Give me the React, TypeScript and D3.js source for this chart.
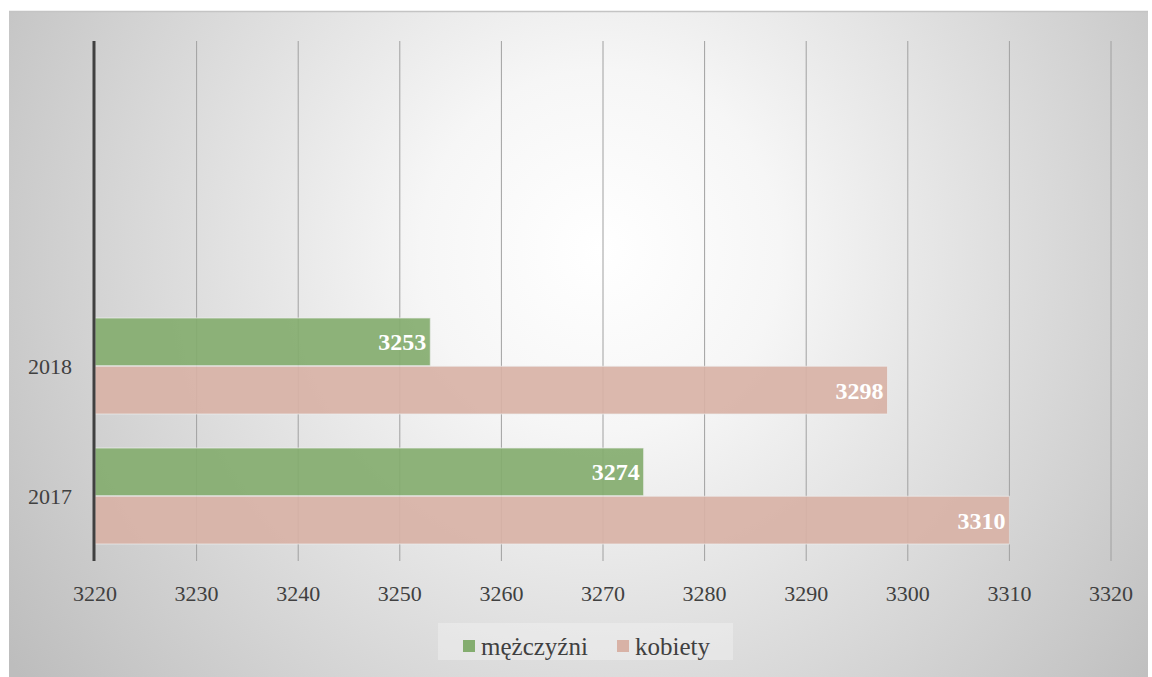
import React from "react";
import * as d3 from "d3";

const categories = ["2017", "2018", "", ""];
const seriesNames = ["mężczyźni", "kobiety"];
const men = [3274, 3253];
const women = [3310, 3298];
const xTicks = [3220, 3230, 3240, 3250, 3260, 3270, 3280, 3290, 3300, 3310, 3320];
const colors = ["#84ad6f", "#d8b2a6"];

export default function App() {
  const W = 1152, H = 677;
  const left = 95, right = 1111, top = 41, bottom = 561;
  const x = d3.scaleLinear().domain([3220, 3320]).range([left, right]);
  const y = d3.scaleBand<string>().domain(categories.map((_, i) => String(i)).reverse()).range([top, bottom]);
  const inner = d3.scaleBand<string>().domain(["0", "1"]).range([17, y.bandwidth() - 17]).paddingInner(0.01);
  const font = "'Liberation Serif', 'DejaVu Serif', serif";
  const data = [men, women];
  return (
    <svg width={W} height={H} style={{ position: "absolute", left: 0, top: 0 }}>
      <defs>
        <radialGradient id="bg" gradientUnits="userSpaceOnUse" cx={600} cy={250} r={720}>
          <stop offset="0" stopColor="#ffffff" />
          <stop offset="0.25" stopColor="#f6f6f6" />
          <stop offset="1" stopColor="#bdbdbd" />
        </radialGradient>
      </defs>
      <rect x={0} y={0} width={W} height={H} fill="#ffffff" />
      <rect x={9} y={11} width={1139} height={666} fill="url(#bg)" />
      <line x1={9} x2={1148} y1={11.5} y2={11.5} stroke="#c4c4c4" strokeWidth={1.5} />
      {xTicks.slice(1).map((t) => (
        <line key={t} x1={x(t)} x2={x(t)} y1={top} y2={bottom} stroke="#a0a0a0" strokeWidth={1} />
      ))}
      {categories.map((c, i) =>
        data.map((s, k) => {
          const v = s[i];
          if (v === undefined) return null;
          const y0 = (y(String(i)) ?? 0) + (inner(String(k)) ?? 0);
          const h = inner.bandwidth();
          return (
            <g key={`${i}-${k}`}>
              <rect x={x(3220)} y={y0} width={x(v) - x(3220)} height={h} fill={colors[k]} fillOpacity={0.92} stroke="#eeeeee" strokeOpacity={0.7} strokeWidth={1} />
              <text x={x(v) - 4} y={y0 + h / 2} dy="0.35em" textAnchor="end" fill="#ffffff" fontFamily={font} fontWeight="bold" fontSize={24}>
                {v}
              </text>
            </g>
          );
        })
      )}
      <line x1={94} x2={94} y1={top} y2={bottom} stroke="#404040" strokeWidth={3} />
      {categories.map((c, i) =>
        c ? (
          <text key={c} x={72} y={(y(String(i)) ?? 0) + y.bandwidth() / 2} dy="0.35em" textAnchor="end" fill="#404040" fontFamily={font} fontSize={22}>
            {c}
          </text>
        ) : null
      )}
      {xTicks.map((t) => (
        <text key={t} x={x(t)} y={593} dy="0.35em" textAnchor="middle" fill="#404040" fontFamily={font} fontSize={22}>
          {t}
        </text>
      ))}
      <rect x={438} y={623} width={295} height={37} fill="#f4f4f4" fillOpacity={0.4} />
      {seriesNames.map((n, k) => {
        const lx = [463, 617][k];
        return (
          <g key={n}>
            <rect x={lx} y={640} width={12} height={12} fill={colors[k]} />
            <text x={lx + 18} y={646} dy="0.35em" fill="#404040" fontFamily={font} fontSize={25}>
              {n}
            </text>
          </g>
        );
      })}
    </svg>
  );
}
